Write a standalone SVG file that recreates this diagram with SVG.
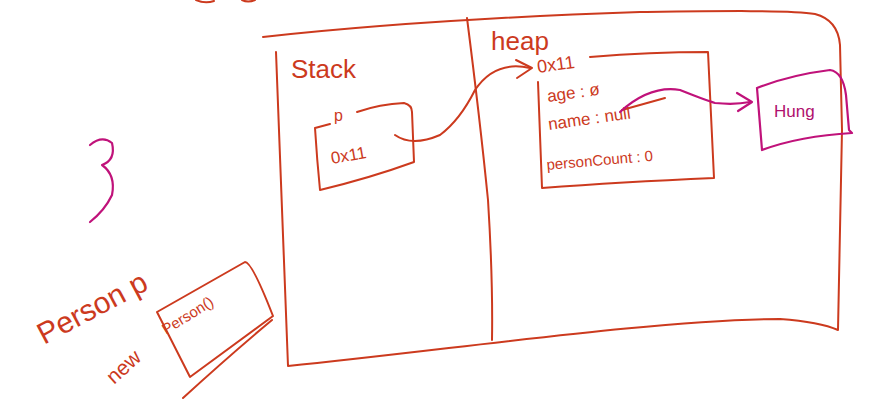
<svg xmlns="http://www.w3.org/2000/svg" width="880" height="410" viewBox="0 0 880 410">
<style>
.r{fill:none;stroke:#cc3a1e;stroke-width:2;stroke-linecap:round;stroke-linejoin:round}
.m{fill:none;stroke:#c0127a;stroke-width:2.2;stroke-linecap:round;stroke-linejoin:round}
.t{font-family:"Liberation Sans","DejaVu Sans",sans-serif;fill:#cc3a1e}
.tm{font-family:"Liberation Sans","DejaVu Sans",sans-serif;fill:#b0106e}
</style>
<rect width="880" height="410" fill="#fff"/>
<path class="r" d="M196,0 Q205,4 214,1 M242,0 Q248,3 255,0" stroke-width="1.6"/>
<g id="memory">
<path class="r" d="M263,37 C400,22 520,16 640,12 C720,11 790,10 815,14 Q838,20 840,45 L842,130 L838,330 Q820,322 780,319 C650,320 450,350 288,366 L276,52"/>
<path class="r" d="M467,18 Q480,120 488,200 Q493,280 492,340"/>
<text class="t" x="291" y="78" font-size="26">Stack</text>
<text class="t" x="491" y="50" font-size="26">heap</text>
</g>
<g id="stack-p">
<path class="r" d="M357,112 Q380,104 404,103 Q412,105 412,112 L414,162 Q370,178 320,190 Q317,160 315,128 L330,124"/>
<text class="t" x="334" y="121" font-size="16">p</text>
<text class="t" x="332" y="164" font-size="17" transform="rotate(-10 332 164)">0x11</text>
</g>
<g id="heap-obj">
<path class="r" d="M590,57 Q650,52 708,52 L714,178 Q620,182 542,188 L538,82"/>
<text class="t" x="538" y="73" font-size="18" transform="rotate(-8 538 73)">0x11</text>
<text class="t" x="548" y="102" font-size="17" transform="rotate(-8 548 102)">age : ø</text>
<text class="t" x="549" y="130" font-size="17" transform="rotate(-8 549 130)">name : null</text>
<path class="r" d="M622,110 L665,98" stroke-width="2.5"/>
<text class="t" x="547" y="170" font-size="15" transform="rotate(-5 547 170)">personCount : 0</text>
</g>
<g id="string-obj">
<path class="m" d="M757,88 Q790,75 830,70 Q843,72 846,95 L849,130 L852,133 Q800,136 762,150 L757,88"/>
<text class="tm" x="774" y="117" font-size="17">Hung</text>
</g>
<g id="code">
<path class="m" d="M90,145 Q102,135 112,143 Q116,160 102,165 Q116,175 112,195 Q105,210 90,222"/>
<text class="t" x="44" y="345" font-size="30" transform="rotate(-28 44 345)">Person p</text>
<text class="t" x="114" y="385" font-size="21" transform="rotate(-42 114 385)">new</text>
<path class="r" d="M157,312 L245,262 Q252,262 273,316 L190,377 Z M183,398 Q230,355 272,320"/>
<text class="t" x="166" y="335" font-size="15" transform="rotate(-32 166 335)">Person()</text>
</g>
<g id="connectors">
<path class="r" d="M395,135 Q412,147 440,135 Q460,120 475,90 Q495,60 530,68"/>
<path class="r" d="M516,60 L532,68 L517,78"/>
<path class="m" d="M620,112 Q650,85 680,90 Q705,100 715,103 Q735,105 750,102"/>
<path class="m" d="M737,93 L752,102 L738,111"/>
</g>
</svg>
